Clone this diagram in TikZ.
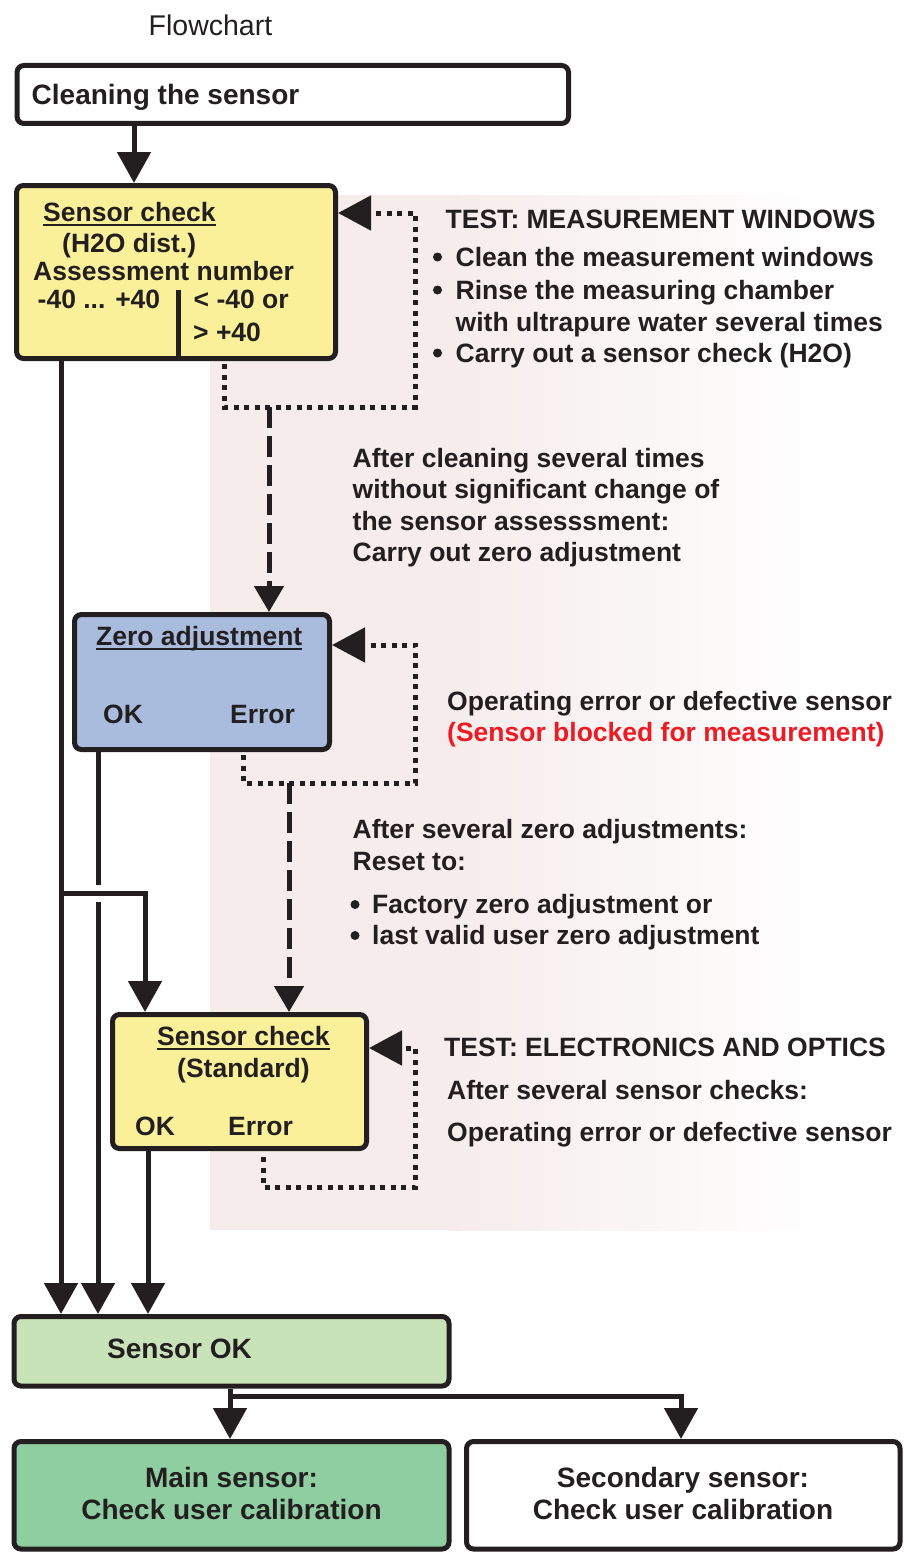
\documentclass[tikz,border=0pt]{standalone}
\usepackage{fontspec}
\setmainfont{Liberation Sans}
\usetikzlibrary{arrows.meta}
\definecolor{ink}{RGB}{35,31,32}
\definecolor{ylw}{RGB}{250,240,154}
\definecolor{blu}{RGB}{170,188,222}
\definecolor{lgrn}{RGB}{200,227,184}
\definecolor{dgrn}{RGB}{143,206,161}
\definecolor{bgpink}{RGB}{246,236,236}
\definecolor{warn}{RGB}{237,28,36}
\newcommand{\ulbox}[1]{\setbox0\hbox{#1}\rlap{\rule[-4.5pt]{\wd0}{2pt}}\box0}

\begin{document}
\begin{tikzpicture}[x=1pt,y=-1pt,
    box/.style={draw=ink,line width=5pt,rounded corners=7pt,inner sep=0pt,anchor=north west},
    txt/.style={font=\fontsize{26.5}{32}\selectfont\bfseries,text=ink,inner sep=0pt,anchor=base west},
    bigtxt/.style={txt,font=\fontsize{28}{32}\selectfont\bfseries},
    dot/.style={circle,fill=ink,minimum size=9pt,inner sep=0pt},
    link/.style={draw=ink,line width=5pt},
    flow/.style={link,-{Triangle[length=31pt,width=33pt]}},
    loopline/.style={link,dash pattern=on 5pt off 5.5pt,-{Triangle[length=33pt,width=34pt]}},
    dashline/.style={link,dash pattern=on 21pt off 8pt,-{Triangle[length=26pt,width=29pt]}}]
  \useasboundingbox (0,0) rectangle (904,1552);
  % background of the test area
  \fill[bgpink] (210,195) rectangle (450,1230);
  \shade[left color=bgpink,right color=white] (449,195) rectangle (830,1230);

  \node[txt,font=\fontsize{28.5}{32}\selectfont,anchor=base] (title) at (210.5,36) {Flowchart};

  % boxes
  \node[box,fill=white,minimum width=551.5pt,minimum height=58pt] (clean) at (14.5,63) {};
  \node[box,fill=ylw,minimum width=319pt,minimum height=173pt] (chkh) at (14,183) {};
  \node[box,fill=blu,minimum width=255pt,minimum height=135pt] (zero) at (72,612) {};
  \node[box,fill=ylw,minimum width=254pt,minimum height=134pt] (chkstd) at (110,1012) {};
  \node[box,fill=lgrn,minimum width=435pt,minimum height=69.5pt] (ok) at (11.5,1314) {};
  \node[box,fill=dgrn,minimum width=435pt,minimum height=107.5pt] (mainsens) at (11.5,1439) {};
  \node[box,fill=white,minimum width=433.5pt,minimum height=107.5pt] (secsens) at (464,1439) {};

  % box texts
  \node[bigtxt] (cleantxt) at (31.5,105) {Cleaning the sensor};
  \node[txt] (chkh1) at (43,221.5) {\ulbox{Sensor check}};
  \node[txt] (chkh2) at (62,252.7) {(H2O dist.)};
  \node[txt] (chkh3) at (33,280) {Assessment number};
  \node[txt] (chkh4) at (37.5,308.5) {-40 ... +40};
  \node[txt] (chkh5) at (193.5,308.5) {< -40 or};
  \node[txt] (chkh6) at (193,341) {> +40};
  \draw[link] (178,290) -- (178,356);
  \node[txt] (zero1) at (96,645) {\ulbox{Zero adjustment}};
  \node[txt] (zero2) at (103,723) {OK};
  \node[txt] (zero3) at (230,723) {Error};
  \node[txt] (std1) at (157,1045) {\ulbox{Sensor check}};
  \node[txt] (std2) at (177,1077) {(Standard)};
  \node[txt] (std3) at (135,1135) {OK};
  \node[txt] (std4) at (228,1135) {Error};
  \node[bigtxt] (oktxt) at (107,1358) {Sensor OK};
  \node[bigtxt,anchor=base] (main1) at (231.5,1487.5) {Main sensor:};
  \node[bigtxt,anchor=base] (main2) at (231.5,1519.5) {Check user calibration};
  \node[bigtxt,anchor=base] (sec1) at (683,1487.5) {Secondary sensor:};
  \node[bigtxt,anchor=base] (sec2) at (683,1519.5) {Check user calibration};

  % notes on the right
  \node[txt] (n1) at (445.5,228.5) {TEST: MEASUREMENT WINDOWS};
  \node[txt] (n2) at (455.5,266) {Clean the measurement windows};
  \node[txt] (n3) at (455.5,299) {Rinse the measuring chamber};
  \node[txt] (n4) at (455.5,331) {with ultrapure water several times};
  \node[txt] (n5) at (455.5,362) {Carry out a sensor check (H2O)};
  \foreach \y in {257,290,353}
    \node[dot] at (437.5,\y) {};
  \node[txt] (n6) at (352.5,467) {After cleaning several times};
  \node[txt] (n7) at (352.5,498.5) {without significant change of};
  \node[txt] (n8) at (352.5,530) {the sensor assesssment:};
  \node[txt] (n9) at (352.5,561.5) {Carry out zero adjustment};
  \node[txt] (n10) at (447,710.5) {Operating error or defective sensor};
  \node[txt,text=warn] (n11) at (447,741.5) {(Sensor blocked for measurement)};
  \node[txt] (n12) at (352.5,838.5) {After several zero adjustments:};
  \node[txt] (n13) at (352.5,870.5) {Reset to:};
  \node[txt] (n14) at (372,913.5) {Factory zero adjustment or};
  \node[txt] (n15) at (372,944.5) {last valid user zero adjustment};
  \foreach \y in {904.5,935.5}
    \node[dot] at (355,\y) {};
  \node[txt] (n16) at (444,1056.5) {TEST: ELECTRONICS AND OPTICS};
  \node[txt] (n17) at (447,1099) {After several sensor checks:};
  \node[txt] (n18) at (447,1141) {Operating error or defective sensor};

  % solid connectors
  \coordinate (c0) at (134,0);
  \coordinate (j1) at (61,893);
  \coordinate (j2) at (145,893);
  \coordinate (j3) at (98,893);
  \coordinate (j4) at (148,0);
  \draw[flow] (clean.south -| c0) -- (chkh.north -| c0);
  \draw[flow] (chkh.south -| j1) -- (ok.north -| j1);
  \draw[flow] (j1) -| (chkstd.north -| j2);
  \draw[link] (zero.south -| j3) -- ([yshift=8pt]j3);
  \draw[flow] ([yshift=-9pt]j3) -- (ok.north -| j3);
  \draw[flow] (chkstd.south -| j4) -- (ok.north -| j4);
  \coordinate (b1) at (230,1396);
  \coordinate (b2) at (681,1396);
  \draw[flow] (ok.south -| b1) -- (mainsens.north -| b1);
  \draw[flow] (b1) -| (secsens.north -| b2);

  % test loops
  \coordinate (ca) at (224,407);
  \coordinate (cb) at (415,213);
  \coordinate (da) at (269,407);
  \draw[loopline,shorten <=3pt] (chkh.south -| ca) -- (ca) -| (cb) -- (cb -| chkh.east);
  \draw[dashline] (da) -- (da |- zero.north);
  \coordinate (za) at (243.5,783);
  \coordinate (zb) at (415.5,645);
  \coordinate (db) at (289,783);
  \draw[loopline,shorten <=3pt] (zero.south -| za) -- (za) -| (zb) -- (zb -| zero.east);
  \draw[dashline] (db) -- (db |- chkstd.north);
  \coordinate (sa) at (263,1187);
  \coordinate (sb) at (415,1048);
  \draw[loopline,shorten <=6pt] (chkstd.south -| sa) -- (sa) -| (sb) -- (sb -| chkstd.east);
\end{tikzpicture}
\end{document}
